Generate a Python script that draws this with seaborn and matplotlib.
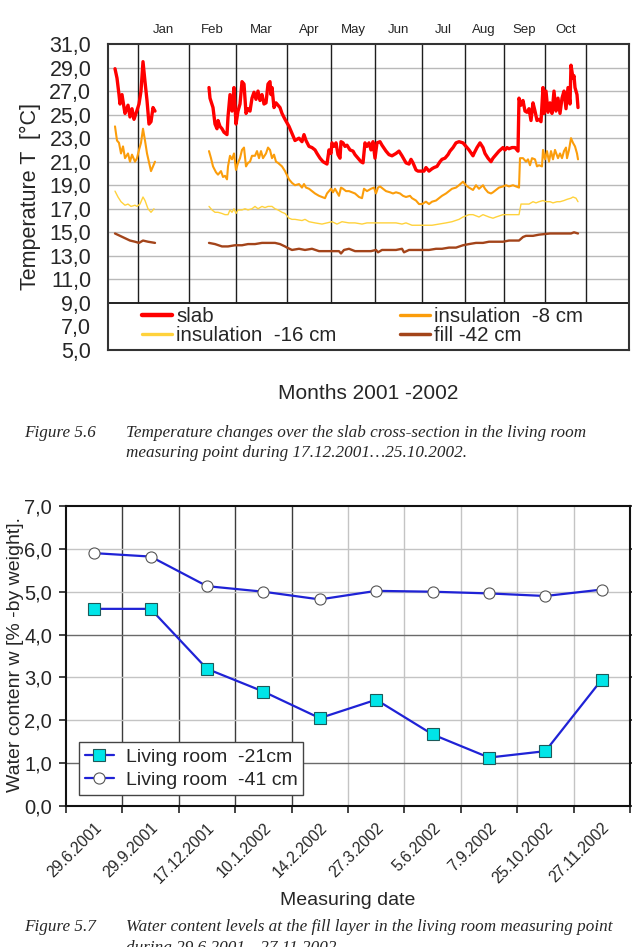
import matplotlib
matplotlib.use("Agg")
import matplotlib.pyplot as plt
from matplotlib.lines import Line2D
import numpy as np
import pandas as pd
import seaborn as sns

# ---------- Figure 5.6 : temperatures, x = reading number ----------
slab_x = [7, 9, 11, 12, 14, 16, 17, 20, 22, 24, 26, 28, 31, 33, 35, 37, 39, 41, 43, 45, 47,
          101, 102, 105, 107, 109, 110, 112, 114, 116, 119, 120, 122, 124, 126, 128, 130, 132, 134, 136, 138,
          140, 142, 144, 146, 148, 150, 152, 154, 156, 158, 160, 162, 163, 164, 166, 168, 170, 172, 174, 177,
          181, 184, 187, 191, 194, 196, 198, 201, 204, 207, 209, 212, 215, 217, 219, 221, 223, 224, 226, 228,
          230, 232, 233, 235, 237, 239, 242, 245, 247, 250, 253, 255, 257, 259, 261, 263,
          265, 267, 269, 272, 274, 278, 281, 284, 288, 291, 294, 298, 301, 303, 305, 308, 310, 313, 316, 318,
          321, 324, 326, 329, 332, 334, 337, 340, 342, 345, 348, 351,
          355, 358, 361, 365, 366, 369, 372, 375, 377, 380, 383, 385, 388, 391, 395, 397, 399, 401, 404, 407,
          409, 410, 411, 413, 415, 417, 419, 421, 423, 425, 427, 429, 431, 433,
          435, 436, 438, 440, 442, 444, 446, 448, 450, 452, 454, 456, 458, 460, 462, 463, 465, 466, 467, 469, 470]
slab_t = [28.9, 28.1, 26.7, 25.9, 26.7, 25.6, 25.1, 25.8, 24.8, 25.5, 24.6, 25.1, 25.9, 27.0, 29.5, 27.8, 26.2, 24.2, 24.4, 25.6, 25.3,
          27.3, 26.4, 25.6, 24.2, 23.8, 24.5, 24.0, 23.8, 23.5, 23.3, 24.8, 26.7, 25.3, 27.3, 24.2, 25.3, 25.9, 27.8, 27.6, 25.1,
          25.5, 25.3, 26.4, 26.9, 26.3, 27.0, 26.2, 26.7, 25.9, 26.0, 27.6, 27.8, 26.7, 27.3, 25.6, 26.0, 25.8, 25.6, 25.1, 24.6,
          24.0, 23.4, 22.8, 23.0, 22.7, 23.3, 22.8, 22.3, 22.2, 22.0, 21.7, 21.3, 21.0, 20.9, 20.8, 22.0, 21.7, 22.6, 22.3, 22.6,
          21.6, 21.3, 22.7, 22.6, 22.3, 22.4, 22.0, 21.9, 21.6, 21.3, 21.0, 20.9, 22.6, 22.3, 22.6, 22.0,
          22.7, 21.3, 22.6, 22.7, 22.4, 21.9, 21.6, 21.5, 21.7, 21.9, 21.5, 20.9, 20.8, 21.2, 20.9, 20.3, 20.2, 20.2, 20.2, 20.5,
          20.2, 20.4, 20.5, 20.6, 21.0, 21.2, 21.3, 21.6, 21.9, 22.2, 22.6, 22.7,
          22.6, 22.3, 22.0, 21.5, 21.7, 22.2, 22.6, 22.2, 21.7, 21.3, 21.0, 21.3, 21.6, 21.9, 22.2, 22.0, 22.2, 22.1, 22.2, 22.2,
          22.0, 21.9, 26.4, 25.8, 26.2, 25.3, 25.2, 25.5, 24.5, 26.0, 25.3, 24.5, 24.6, 24.4,
          27.3, 25.1, 27.0, 25.2, 26.0, 25.1, 27.0, 25.3, 26.4, 25.1, 26.4, 27.0, 25.5, 27.3, 25.9, 29.2, 28.1, 28.3, 27.3, 26.7, 25.6]

ins8_x = [7, 9, 11, 13, 15, 17, 20, 22, 24, 27, 29, 31, 33, 35, 37, 39, 43, 45, 47,
          101, 103, 105, 108, 110, 113, 115, 117, 119, 120, 122, 124, 126, 128, 130, 132, 134, 136, 138, 140,
          142, 144, 147, 149, 151, 153, 155, 158, 160, 162, 164, 166, 168, 170, 174, 177,
          181, 184, 187, 191, 194, 196, 198, 201, 204, 207, 211, 214, 217, 219, 221, 223, 225, 227, 229, 231,
          233, 235, 238, 241, 244, 247, 251, 254, 256, 259, 263,
          266, 268, 270, 272, 275, 278, 282, 285, 288, 292, 295, 298, 302, 304, 308, 311, 314, 318, 321, 324,
          328, 331, 334, 338, 341, 344, 348, 351,
          355, 358, 361, 365, 368, 371, 375, 377, 380, 383, 385, 388, 391, 395, 398, 401, 405, 408, 411, 412,
          415, 418, 420, 422, 424, 427, 429, 431, 434,
          435, 437, 439, 441, 443, 445, 447, 450, 452, 454, 456, 458, 459, 461, 463, 465, 467, 469, 470]
ins8_t = [24.0, 22.8, 22.6, 21.7, 22.3, 21.3, 21.7, 21.0, 21.6, 21.0, 21.3, 22.0, 22.6, 23.8, 22.8, 21.7, 20.2, 20.6, 21.0,
          21.9, 21.3, 20.6, 20.1, 19.9, 20.2, 19.7, 19.8, 19.5, 20.6, 21.5, 21.2, 21.7, 20.3, 20.9, 21.3, 22.0, 22.2, 20.6, 20.9,
          21.0, 21.5, 21.5, 21.9, 21.3, 21.9, 21.3, 21.7, 22.2, 22.0, 21.3, 21.6, 21.0, 20.9, 20.6, 20.2,
          19.5, 19.2, 19.0, 19.1, 18.8, 19.1, 18.8, 18.7, 18.5, 18.3, 18.1, 18.0, 17.9, 18.3, 18.5, 18.7, 18.4, 18.7, 18.4, 18.1,
          18.8, 18.7, 18.5, 18.5, 18.4, 18.3, 18.0, 17.9, 18.7, 18.5, 18.7,
          18.8, 18.3, 18.8, 18.9, 18.7, 18.5, 18.4, 18.3, 18.4, 18.3, 18.1, 18.0, 18.1, 17.9, 17.7, 17.4, 17.4, 17.6, 17.4, 17.6,
          17.7, 17.9, 18.1, 18.3, 18.5, 18.7, 18.8, 19.0,
          19.3, 19.0, 18.8, 18.6, 19.0, 18.7, 19.0, 18.7, 18.4, 18.3, 18.4, 18.6, 18.8, 18.9, 19.0, 18.9, 19.0, 18.9, 18.8, 21.3,
          21.3, 21.0, 21.2, 20.7, 21.3, 21.2, 20.6, 20.7, 20.6,
          22.0, 21.2, 21.9, 21.0, 21.9, 21.2, 22.0, 21.3, 21.7, 21.3, 21.9, 22.2, 21.3, 22.0, 23.0, 22.6, 22.3, 21.7, 21.2]

ins16_x = [7, 10, 13, 17, 20, 23, 27, 29, 32, 35, 37, 40, 43, 46,
           101, 104, 107, 110, 114, 117, 120, 122, 124, 126, 128, 130, 134, 137, 140, 144, 147, 150, 154, 157,
           160, 164, 167, 170, 174, 177,
           181, 184, 187, 194, 197, 201, 207, 214, 219, 224, 229, 234, 241, 247, 254, 259,
           268, 274, 281, 288, 294, 298, 304, 311, 318, 324, 331, 338, 344, 351,
           355, 361, 365, 368, 371, 375, 378, 381, 385, 388, 395, 401, 408, 411, 413, 418, 421, 425, 428, 431, 435,
           438, 442, 445, 449, 452, 456, 459, 463, 465, 468, 470]
ins16_t = [18.5, 18.0, 17.6, 17.3, 17.4, 17.2, 17.3, 17.2, 17.4, 18.0, 17.7, 17.0, 16.7, 17.0,
           17.2, 16.9, 16.7, 16.7, 16.6, 16.5, 16.5, 16.9, 16.7, 17.0, 16.6, 16.9, 16.9, 17.0, 16.9, 17.0, 17.2, 17.0, 17.2, 17.1,
           17.2, 17.2, 17.0, 16.9, 16.7, 16.6,
           16.2, 16.1, 16.1, 16.0, 16.1, 15.9, 15.8, 15.7, 15.8, 15.9, 15.7, 15.9, 15.8, 15.8, 15.7, 15.8,
           15.8, 15.8, 15.8, 15.8, 15.7, 15.8, 15.6, 15.6, 15.6, 15.6, 15.7, 15.8, 15.9, 16.1,
           16.3, 16.5, 16.5, 16.4, 16.3, 16.5, 16.4, 16.3, 16.2, 16.3, 16.5, 16.5, 16.5, 16.5, 17.4, 17.4, 17.4, 17.6, 17.5, 17.6, 17.7,
           17.6, 17.6, 17.5, 17.6, 17.6, 17.7, 17.8, 17.9, 18.0, 17.9, 17.6]

fill_x = [7, 12, 17, 22, 27, 31, 35, 40, 47,
          101, 107, 114, 120, 127, 134, 140, 147, 154, 160, 167, 172, 177,
          179, 184, 191, 197, 204, 211, 217, 224, 231, 233, 236, 241, 247, 254, 263,
          268, 270, 274, 281, 288, 294, 296, 301, 308, 314, 321, 328, 334, 341, 348,
          355, 361, 368, 375, 381, 388, 395, 401, 408, 411, 415, 418, 425, 431,
          442, 449, 456, 463, 466, 470]
fill_t = [14.9, 14.7, 14.5, 14.3, 14.2, 14.1, 14.3, 14.2, 14.1,
          14.1, 14.0, 13.8, 13.8, 13.9, 13.9, 14.0, 14.0, 14.1, 14.1, 14.1, 14.0, 13.8,
          13.7, 13.5, 13.6, 13.5, 13.6, 13.4, 13.4, 13.4, 13.4, 13.2, 13.5, 13.6, 13.4, 13.4, 13.4,
          13.5, 13.3, 13.5, 13.5, 13.5, 13.6, 13.3, 13.5, 13.5, 13.5, 13.5, 13.6, 13.6, 13.7, 13.7,
          13.9, 14.0, 14.1, 14.1, 14.2, 14.2, 14.2, 14.3, 14.3, 14.3, 14.6, 14.7, 14.7, 14.8,
          14.9, 14.9, 14.9, 14.9, 15.0, 14.9]

gap_reading = 75          # logger offline between mid Jan and mid Feb
month_edges = [29.5, 81, 127.5, 178.5, 223, 267, 314, 356.5, 396, 437, 478]
months = ['Jan', 'Feb', 'Mar', 'Apr', 'May', 'Jun', 'Jul', 'Aug', 'Sep', 'Oct']

# ---------- Figure 5.7 : water content ----------
dates = ['29.6.2001', '29.9.2001', '17.12.2001', '10.1.2002', '14.2.2002',
         '27.3.2002', '5.6.2002', '7.9.2002', '25.10.2002', '27.11.2002']
w_21cm = [4.6, 4.6, 3.2, 2.67, 2.05, 2.48, 1.67, 1.13, 1.28, 2.95]
w_41cm = [5.9, 5.82, 5.13, 5.0, 4.82, 5.02, 5.0, 4.96, 4.9, 5.05]

sns.set_style("white")
plt.rcParams['font.family'] = ['Liberation Sans', 'DejaVu Sans']

fig = plt.figure(figsize=(6.32, 9.47), dpi=100)
W, H = 632, 947
ax1 = fig.add_axes([108 / W, 1 - 350 / H, 521 / W, 306 / H])
ax2 = fig.add_axes([66 / W, 1 - 806 / H, 564 / W, 300 / H])

# ---- chart 1 ----
names = ['slab', 'insulation  -8 cm', 'insulation  -16 cm', 'fill -42 cm']
colors = {'slab': '#ff0000', 'insulation  -8 cm': '#fb9d0b',
          'insulation  -16 cm': '#ffd23c', 'fill -42 cm': '#a3441a'}
widths = {'slab': 2.4, 'insulation  -8 cm': 1.5, 'insulation  -16 cm': 1.0, 'fill -42 cm': 1.7}

frames = []
for name, xs, ts in zip(names, [slab_x, ins8_x, ins16_x, fill_x], [slab_t, ins8_t, ins16_t, fill_t]):
    d = pd.DataFrame({'reading': xs, 'temp': ts})
    d['series'] = name
    d['part'] = np.where(d['reading'] < gap_reading, 0, 1)
    frames.append(d)
temps = pd.concat(frames, ignore_index=True)

ax1.hlines(np.arange(11, 31, 2), 0, 521, color='#b9b9b9', lw=1.0, zorder=0)
ax1.axhline(9, color='#222222', lw=1.4, zorder=1)
ax1.vlines(month_edges, 9, 31, color='#1e1e1e', lw=1.0, zorder=1)

sns.lineplot(data=temps, x='reading', y='temp', hue='series', size='series',
             palette=colors, sizes=widths, units='part', estimator=None,
             legend=False, ax=ax1, zorder=3)

ax1.set_xlim(0, 521)
ax1.set_ylim(5, 31)
yt = np.arange(5, 32, 2)
ax1.set_yticks(yt)
ax1.set_yticklabels([f"{v:.1f}".replace('.', ',') for v in yt], fontsize=15.5)
ax1.tick_params(axis='y', length=0, pad=12)
ax1.xaxis.tick_top()
centres = [(a + b) / 2 for a, b in zip(month_edges[:-1], month_edges[1:])]
ax1.set_xticks(centres)
ax1.set_xticklabels(months, fontsize=9.5)
ax1.tick_params(axis='x', length=0, pad=6)
ax1.set_ylabel('Temperature T  [°C]', fontsize=15.5)
ax1.yaxis.set_label_coords(-0.128, 0.5)
ax1.set_xlabel('Months 2001 -2002', fontsize=15)
ax1.xaxis.set_label_position('bottom')
ax1.xaxis.set_label_coords(0.5, -0.112)
for s in ax1.spines.values():
    s.set_color('#333333')
    s.set_linewidth(1.5)

order = ['slab', 'insulation  -16 cm', 'insulation  -8 cm', 'fill -42 cm']
handles = [Line2D([], [], color=colors[n], lw=max(widths[n], 1.6) + 0.8) for n in order]
ax1.legend(handles, order, ncol=2, frameon=False, fontsize=14.8,
           loc='upper left', bbox_to_anchor=(0.05, 0.168), handlelength=1.45,
           handletextpad=0.2, columnspacing=3.1, labelspacing=0.0, borderaxespad=0)

# ---- chart 2 ----
blue = '#1f22d6'
for k in range(9):
    ax2.axvline(k + 0.5, color='#3c3c3c' if k < 4 else '#c4c4c4', lw=1.0, zorder=0)
for v in range(1, 7):
    ax2.axhline(v, color='#6a6a6a' if v in (1, 4) else '#c4c4c4', lw=1.0, zorder=0)

sns.lineplot(x=dates, y=w_21cm, sort=False, errorbar=None, color=blue, lw=1.6,
             marker='s', markersize=8, markerfacecolor='#00e5e8', markeredgecolor='#1d5a5a',
             markeredgewidth=0.8, label='Living room  -21cm', ax=ax2, zorder=3)
sns.lineplot(x=dates, y=w_41cm, sort=False, errorbar=None, color=blue, lw=1.6,
             marker='o', markersize=8, markerfacecolor='white', markeredgecolor='#555555',
             markeredgewidth=0.8, label='Living room  -41 cm', ax=ax2, zorder=3)

ax2.set_xlim(-0.5, 9.5)
ax2.set_ylim(0, 7)
ax2.set_yticks(range(8))
ax2.set_yticklabels([f"{v:.1f}".replace('.', ',') for v in range(8)], fontsize=14.5)
ax2.tick_params(axis='y', which='both', direction='out', length=5, width=1.2,
                color='#222222', pad=5, left=True, right=True)
ax2.set_xticks(range(len(dates)))
ax2.set_xticklabels(dates, rotation=45, ha='right', va='top', rotation_mode='anchor', fontsize=11.3)
ax2.tick_params(axis='x', which='major', length=0, pad=10)
ax2.set_xticks(np.arange(-0.5, len(dates), 1), minor=True)
ax2.tick_params(axis='x', which='minor', direction='out', length=5, width=1.2, color='#222222', bottom=True)
ax2.set_xlabel('Measuring date', fontsize=14)
ax2.xaxis.set_label_coords(0.5, -0.285)
ax2.set_ylabel('Water contenr w [% -by weight].', fontsize=14)
ax2.yaxis.set_label_coords(-0.075, 0.505)
for s in ax2.spines.values():
    s.set_color('#111111')
    s.set_linewidth(1.5)

ax2.legend(loc='lower left', bbox_to_anchor=(0.023, 0.037), borderaxespad=0,
           fontsize=14, frameon=True, fancybox=False, edgecolor='#444444',
           framealpha=1, handlelength=1.5, handletextpad=0.6, labelspacing=0.3,
           borderpad=0.3)

# ---- captions ----
cap = dict(family=['Liberation Serif', 'DejaVu Serif'], style='italic', fontsize=12.3, va='center')
fig.text(24 / W, 1 - 433 / H, 'Figure 5.6', **cap)
fig.text(126 / W, 1 - 433 / H, 'Temperature changes over the slab cross-section in the living room', **cap)
fig.text(126 / W, 1 - 453 / H, 'measuring point during 17.12.2001\u202625.10.2002.', **cap)
fig.text(24 / W, 1 - 927 / H, 'Figure 5.7', **cap)
fig.text(126 / W, 1 - 927 / H, 'Water content levels at the fill layer in the living room measuring point', **cap)
fig.text(126 / W, 1 - 948 / H, 'during 29.6.2001\u202627.11.2002.', **cap)

fig.savefig('out.png', dpi=100, facecolor='white')
